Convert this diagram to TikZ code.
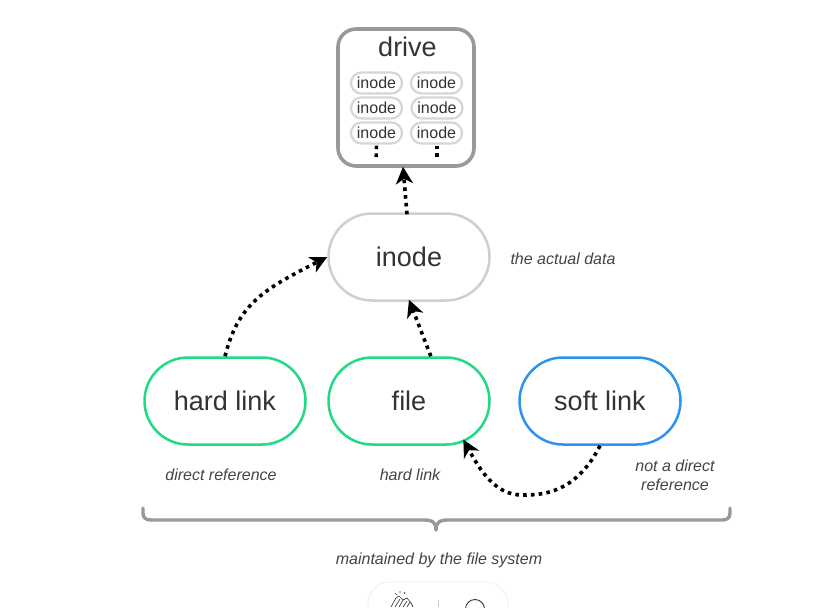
\documentclass[tikz,border=0pt]{standalone}
\usepackage{fontspec}
\setmainfont{Liberation Sans}
\usetikzlibrary{shapes.misc,arrows.meta}
\definecolor{ink}{HTML}{333333}
\definecolor{lbl}{HTML}{444444}
\definecolor{greenl}{HTML}{1FDB84}
\definecolor{bluel}{HTML}{2E93F0}
\definecolor{grayl}{HTML}{CFCFCF}
\definecolor{darkg}{HTML}{999999}
\tikzset{
  pill/.style={rounded rectangle,draw=#1,line width=2.5pt,minimum width=161pt,minimum height=87pt,inner sep=0pt,text=ink,font=\fontsize{27}{30}\selectfont},
  minipill/.style={rounded rectangle,draw=grayl!85,line width=2.2pt,minimum width=51pt,minimum height=21pt,inner sep=0pt,text=ink,font=\fontsize{16}{18}\selectfont},
  drivebox/.style={draw=darkg,line width=3.6pt,rounded corners=18pt,minimum width=136pt,minimum height=137pt,inner sep=0pt},
  note/.style={text=lbl,align=center,font=\fontsize{16}{19.5}\selectfont\itshape,inner sep=0pt},
  dotlink/.style={line width=3.6pt,black,dash pattern=on 3.6pt off 4.2pt},
  tiphead/.style={-{Stealth[length=17pt,width=17pt,inset=5pt]}},
  bracket/.style={draw=darkg,line width=3.4pt,line cap=round,line join=round}
}
\begin{document}
\begin{tikzpicture}[x=1pt,y=-1pt]
\useasboundingbox (0,0) rectangle (834,607);
\fill[white] (0,0) rectangle (834,607);
% bottom toolbar
\begin{scope}
\clip (0,0) rectangle (834,607);
\draw[draw=black!5,line width=1pt,fill=white,rounded corners=22pt] (368,630) rectangle (508,582);
\draw[black!20,line width=.8pt] (438,600) -- (438,607);
\draw[black!80,line width=.9pt] (475,609) circle (9.5);
\draw[black!75,line width=.7pt] (391,607) -- (396,598) (395,607) -- (400,599) (399,607) -- (403,600) (403,607) -- (407,601) (407,607) -- (410,602) (396,598) -- (399,596) -- (403,600) -- (407,598) -- (411,603) -- (413,607);
\draw[black!75,line width=.7pt] (400,593) -- (400,591) (404,594) -- (405,592) (397,595) -- (395,593);
\end{scope}
% drive
\node[drivebox] (drive) at (406,97.5) {};
\node[text=ink,font=\fontsize{27}{30}\selectfont,inner sep=0pt] (drivelabel) at (407.5,47) {drive};
\node[minipill] (a1) at (376.5,83) {inode};
\node[minipill] (b1) at (436.5,83) {inode};
\node[minipill] (a2) at (376.5,108) {inode};
\node[minipill] (b2) at (437,108) {inode};
\node[minipill] (a3) at (376.5,133) {inode};
\node[minipill] (b3) at (436.5,133) {inode};
\coordinate (ae) at (376,161);
\coordinate (be) at (437,161);
\draw[dotlink,line width=3.4pt] (a3.south) ++(0,1) -- (ae);
\draw[dotlink,line width=3.4pt] (b3.south) ++(0.5,1) -- (be);
% main pills
\node[pill=grayl] (inode) at (409,257) {inode};
\node[pill=greenl] (hard) at (225,401) {hard link};
\node[pill=greenl] (file) at (409,401) {file};
\node[pill=bluel] (soft) at (600,401) {soft link};
% connectors
\draw[dotlink,tiphead] (inode.north) ++(-2,2) -- ([xshift=-3pt,yshift=1pt]drive.south);
\draw[dotlink,tiphead] (hard.north) .. controls (238,305) and (262,290) .. (inode.west);
\draw[dotlink,tiphead] (file.64) -- ([yshift=2pt]inode.south);
\draw[dotlink,tiphead] (soft.south) .. controls (575,495) and (540,495) .. (522,495) .. controls (495,495) and (480,470) .. ([xshift=1pt,yshift=3pt]file.-38);
% notes
\node[note] (n1) at (563,259) {the actual data};
\node[note] (n2) at (221,475) {direct reference};
\node[note] (n3) at (410,475) {hard link};
\node[note] (n4) at (675,475.5) {not a direct\\reference};
\node[note] (n5) at (439,560) {maintained by the file system};
% bracket
\draw[bracket] (143,508) -- (143,513) .. controls (143,518) and (146,520) .. (151,520) -- (425,520) .. controls (432,520) and (436,522) .. (436,530);
\draw[bracket] (730,508) -- (730,513) .. controls (730,518) and (727,520) .. (722,520) -- (447,520) .. controls (440,520) and (436,522) .. (436,530);
\end{tikzpicture}
\end{document}
